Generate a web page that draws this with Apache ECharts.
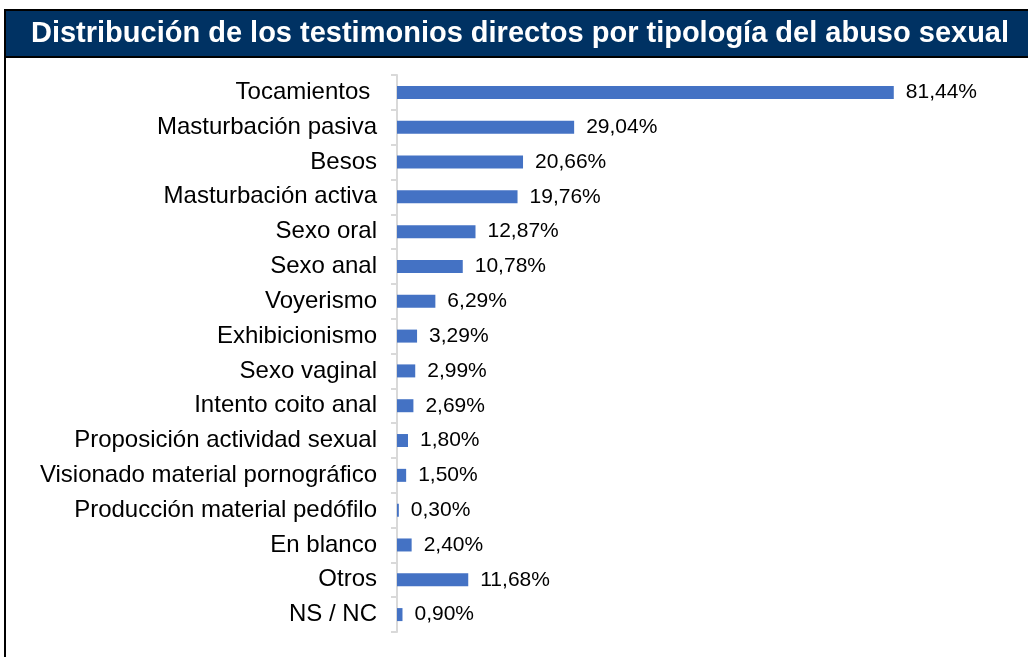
<!DOCTYPE html>
<html><head><meta charset="utf-8">
<script src="https://cdn.jsdelivr.net/npm/echarts@6/dist/echarts.min.js"></script>
<style>html,body{margin:0;padding:0;background:#fff}#c{width:1028px;height:657px}</style>
</head><body><div id="c"></div>
<script>
const titleText = 'Distribución de los testimonios directos por tipología del abuso sexual';
const categories = ['Tocamientos ','Masturbación pasiva','Besos','Masturbación activa','Sexo oral','Sexo anal','Voyerismo','Exhibicionismo','Sexo vaginal','Intento coito anal','Proposición actividad sexual','Visionado material pornográfico','Producción material pedófilo','En blanco','Otros','NS / NC'];
const values = [81.44,29.04,20.66,19.76,12.87,10.78,6.29,3.29,2.99,2.69,1.80,1.50,0.30,2.40,11.68,0.90];

const chart = echarts.init(document.getElementById('c'), null, {renderer:'canvas'});
chart.setOption({
  animation:false,
  graphic:[
    {type:'rect', shape:{x:5,y:10,width:1030,height:700}, style:{fill:'none', stroke:'#000', lineWidth:2}, z:10},
    {type:'rect', shape:{x:5,y:10,width:1030,height:47}, style:{fill:'#003263', stroke:'#000', lineWidth:2}, z:11},
    {type:'text', x:520, y:34, style:{text:titleText, fill:'#fff', font:'bold 29px "Liberation Sans", Arial, sans-serif', textAlign:'center', textVerticalAlign:'middle'}, z:12}
  ],
  grid:{left:397, right:21, top:75, bottom:25, containLabel:false},
  xAxis:{type:'value', min:0, max:100, show:false},
  yAxis:{type:'category', data:categories, inverse:true,
    axisLine:{show:true, lineStyle:{color:'#d9d9d9', width:2}},
    axisTick:{show:true, alignWithLabel:false, length:6, lineStyle:{color:'#d9d9d9', width:2}},
    axisLabel:{color:'#000', fontSize:24, fontFamily:'"Liberation Sans", Arial, sans-serif', margin:20}
  },
  series:[{type:'bar', data:values, barWidth:13, itemStyle:{color:'#4472C4'},
    label:{show:true, position:'right', distance:12, color:'#000', fontSize:21, fontFamily:'"Liberation Sans", Arial, sans-serif',
      formatter:p=>p.value.toFixed(2).replace('.',',')+'%'}
  }]
});
</script></body></html>
